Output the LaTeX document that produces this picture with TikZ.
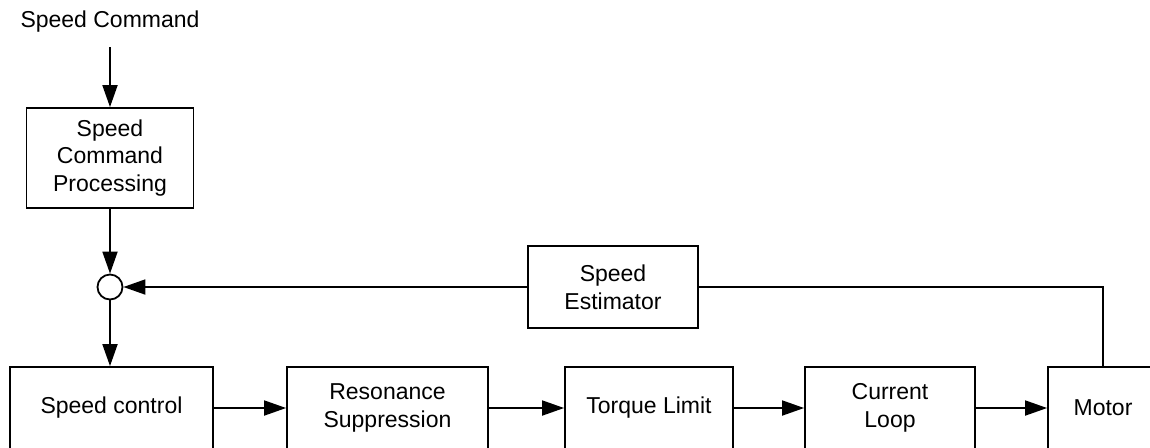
\documentclass[tikz,border=0pt]{standalone}
\usepackage{fontspec}
\setmainfont{Liberation Sans}
\usetikzlibrary{arrows.meta,positioning}

\begin{document}
\begin{tikzpicture}[x=0.5pt, y=-0.5pt,
      block/.style={draw, line width=0.9pt, align=center, inner sep=2pt,
                    font=\fontsize{11.5}{13.8}\selectfont},
      arr/.style={-{Triangle[length=11pt, width=7.5pt]}, line width=0.9pt},
      line/.style={line width=0.9pt}
    ]
      \clip (0,0) rectangle (1150,447);

      \node[font=\fontsize{11.5}{13.8}\selectfont] (cmd) at (110,22) {Speed Command};
      \node[block, minimum width=83.5pt, minimum height=50pt] (proc) at (110,158) {Speed\\Command\\Processing};
      \node[draw, circle, line width=0.9pt, minimum size=12.5pt, inner sep=0pt] (sum) at (110,287) {};
      \node[block, minimum width=85pt, minimum height=41pt] (est) at (613,287) {Speed\\Estimator};

      \node[block, minimum width=101.5pt, minimum height=41pt] (spd) at (111.5,408) {Speed control};
      \node[block, minimum width=100.5pt, minimum height=41pt] (res) at (387.5,408) {Resonance\\Suppression};
      \node[block, minimum width=84pt, minimum height=41pt] (trq) at (649,408) {Torque Limit};
      \node[block, minimum width=85pt, minimum height=41pt] (cur) at (890,408) {Current\\Loop};
      \node[block, minimum width=55pt, minimum height=41pt] (mot) at (1103,408) {Motor};

      \draw[arr] (cmd) ++(0,25) -- (proc);
      \draw[arr] (proc) -- (sum);
      \draw[arr] (sum) -- (sum |- spd.north);
      \draw[arr] (spd) -- (res);
      \draw[arr] (res) -- (trq);
      \draw[arr] (trq) -- (cur);
      \draw[arr] (cur) -- (mot);

      % Feedback
      \draw[line] (mot.north) |- (est.east);
      \draw[arr] (est) -- (sum);
    \end{tikzpicture}
\end{document}
